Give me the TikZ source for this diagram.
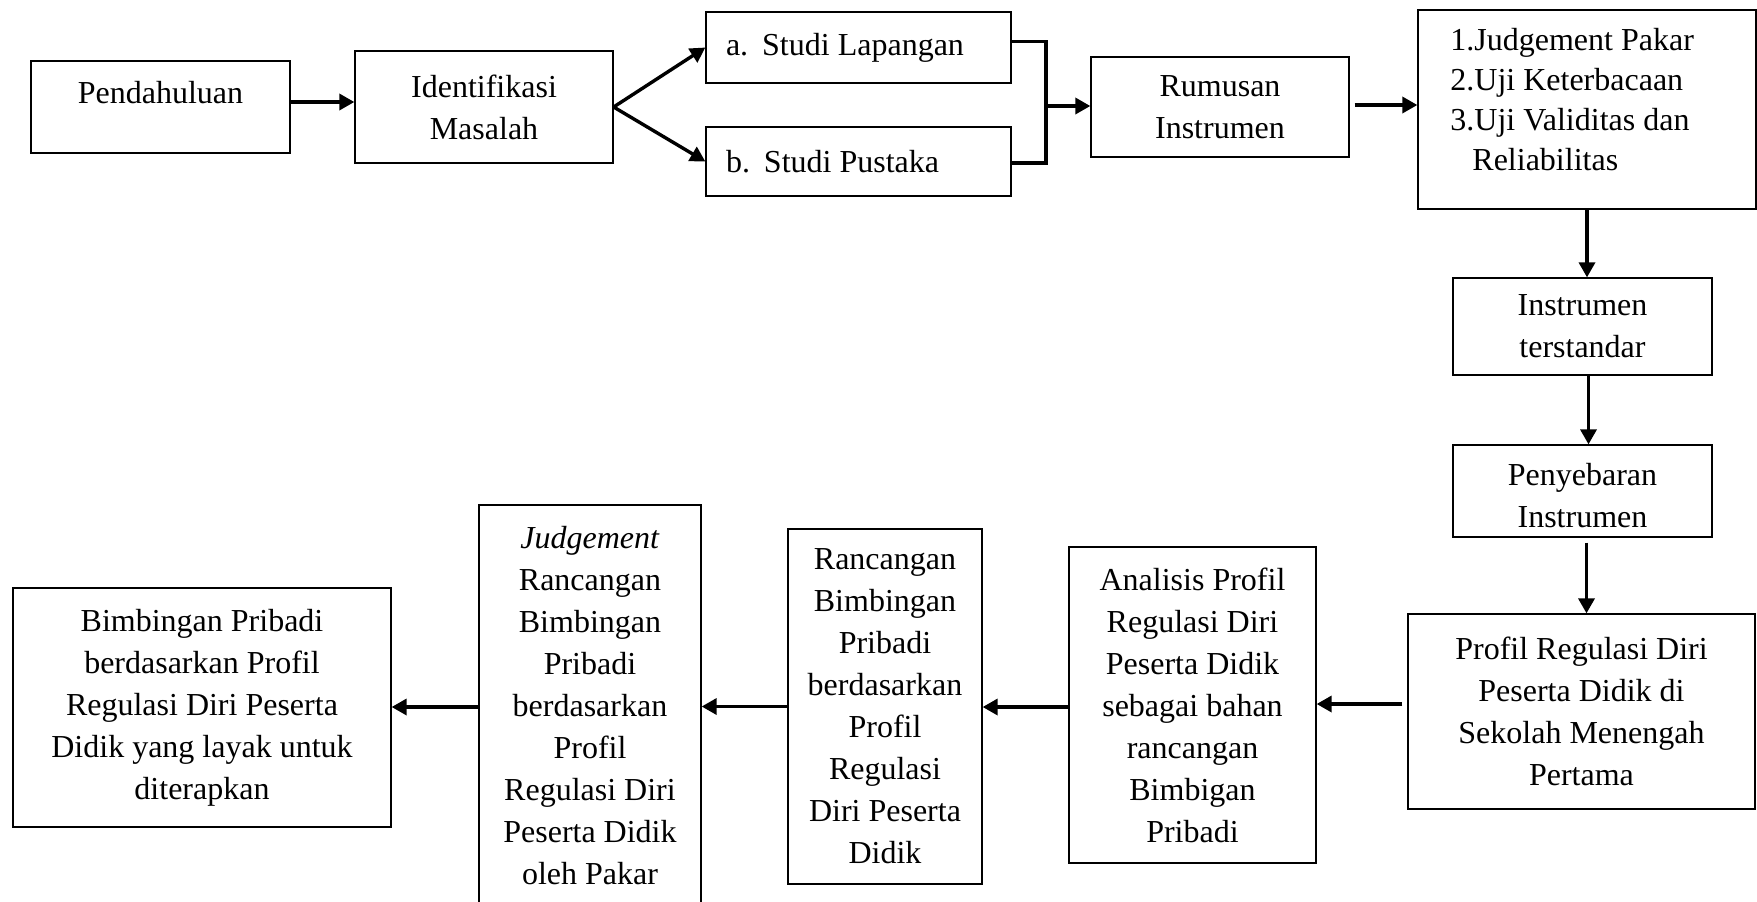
\documentclass[tikz,border=0pt]{standalone}
\usepackage{fontspec}
\setmainfont{Liberation Serif}
\usetikzlibrary{arrows.meta,calc}
\begin{document}
\begin{tikzpicture}[x=0.5pt,y=-0.5pt,
  box/.style={draw, line width=0.65pt, inner sep=0pt, align=center,
    font=\fontsize{16pt}{21pt}\selectfont},
  txt/.style={inner sep=0pt, font=\fontsize{16pt}{20pt}\selectfont},
  arr/.style={line width=1.7pt, -{Triangle[length=7.5pt,width=8pt]}},
  bracket/.style={line width=1.7pt, line join=miter},
]
\useasboundingbox (0,0) rectangle (1757,901);

% top row
\node[box, minimum width=129.5pt, minimum height=46pt, text depth=15pt] (pen) at (160.5,107) {Pendahuluan};
\node[box, minimum width=129pt, minimum height=56pt] (ide) at (484,107) {Identifikasi\\Masalah};
\node[box, minimum width=152.5pt, minimum height=35.5pt, text width=132.5pt, align=flush left] (lap) at (858.5,47.5) {a.\hspace{7pt}Studi Lapangan};
\node[box, minimum width=152.5pt, minimum height=34.5pt, text width=132.5pt, align=flush left] (pus) at (858.5,161.5) {b.\hspace{7pt}Studi Pustaka};
\node[box, minimum width=129pt, minimum height=50pt] (rum) at (1220,107) {Rumusan\\Instrumen};
\node[box, minimum width=169pt, minimum height=99.5pt] (list) at (1587,109.5) {};
\node[txt, anchor=west, align=flush left] (listtxt) at (1450,100)
  {1.Judgement Pakar\\2.Uji Keterbacaan\\3.Uji Validitas dan\\\hspace*{11pt}Reliabilitas};

% right column
\node[box, minimum width=129.5pt, minimum height=48.5pt] (ins) at (1582.5,326.5) {Instrumen\\terstandar};
\node[box, minimum width=129.5pt, minimum height=46pt, text height=37pt] (pny) at (1582.5,491) {Penyebaran\\Instrumen};

% bottom row
\node[box, minimum width=173.5pt, minimum height=97.5pt] (prof) at (1581.5,711.5)
  {Profil Regulasi Diri\\Peserta Didik di\\Sekolah Menengah\\Pertama};
\node[box, minimum width=123.5pt, minimum height=158pt] (ana) at (1192.5,705)
  {Analisis Profil\\Regulasi Diri\\Peserta Didik\\sebagai bahan\\rancangan\\Bimbigan\\Pribadi};
\node[box, minimum width=97pt, minimum height=177.5pt] (ran) at (885,706.5)
  {Rancangan\\Bimbingan\\Pribadi\\berdasarkan\\Profil\\Regulasi\\Diri Peserta\\Didik};
\node[box, minimum width=111pt, minimum height=201pt] (jud) at (590,706)
  {\textit{Judgement}\\Rancangan\\Bimbingan\\Pribadi\\berdasarkan\\Profil\\Regulasi Diri\\Peserta Didik\\oleh Pakar};
\node[box, minimum width=189pt, minimum height=119.5pt] (bim) at (202,707.5)
  {Bimbingan Pribadi\\berdasarkan Profil\\Regulasi Diri Peserta\\Didik yang layak untuk\\diterapkan};

% connectors, top row
\coordinate (c1) at ($(pen.east)+(0,-5)$);
\draw[arr] (c1) -- (c1 -| ide.west);
\draw[arr] (ide.east) -- (lap.west);
\draw[arr] (ide.east) -- (pus.west);
\coordinate (jn) at (1046,106);
\coordinate (lapr) at ($(lap.east)+(0,-6)$);
\coordinate (pusr) at ($(pus.east)+(0,1.5)$);
\draw[bracket] (lapr) -| (jn) |- (pusr);
\draw[arr] (jn) -- (jn -| rum.west);
\coordinate (r1) at ($(rum.east)+(5,-2)$);
\draw[arr] (r1) -- (r1 -| list.west);

% connectors, right column
\draw[arr] (list.south) -- (list.south |- ins.north);
\coordinate (i1) at ($(ins.south)+(6,0)$);
\draw[arr] (i1) -- (i1 |- pny.north);
\coordinate (p1) at ($(pny.south)+(4,5)$);
\draw[arr] (p1) -- (p1 |- prof.north);

% connectors, bottom row
\coordinate (a1) at ($(prof.west)+(-5,-7.5)$);
\draw[arr] (a1) -- (a1 -| ana.east);
\coordinate (a2) at ($(ana.west)+(0,2)$);
\draw[arr] (a2) -- (a2 -| ran.east);
\draw[arr] (ran.west) -- (ran.west -| jud.east);
\coordinate (a4) at ($(jud.west)+(0,1)$);
\draw[arr] (a4) -- (a4 -| bim.east);
\end{tikzpicture}
\end{document}
